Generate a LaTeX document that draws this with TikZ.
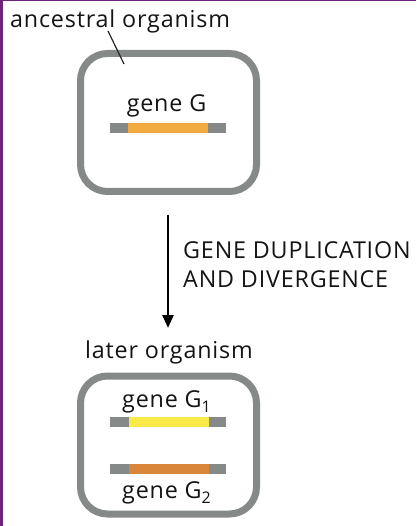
\documentclass[tikz,border=0pt]{standalone}
\usepackage{fontspec}
\setmainfont[LetterSpace=3.5]{Open Sans}
\usetikzlibrary{arrows.meta}
\definecolor{cellgray}{HTML}{858A88}
\definecolor{geneorange}{HTML}{F0AA40}
\definecolor{geneyellow}{HTML}{F9EA4A}
\definecolor{genedark}{HTML}{D9853A}
\definecolor{framepurple}{HTML}{6B2478}
\newcommand{\gsub}[1]{\raisebox{-5pt}{\fontsize{16}{17}\selectfont #1}}
\tikzset{
  cell/.style={draw=cellgray, line width=7pt, rounded corners=27pt, minimum width=176pt, minimum height=138pt, inner sep=0pt},
  flank/.style={fill=cellgray, minimum width=116pt, minimum height=10pt, inner sep=0pt},
  coding/.style={minimum width=80pt, minimum height=10pt, inner sep=0pt},
  lbl/.style={font=\fontsize{23.3}{27}\selectfont, inner sep=0pt, text=black!92},
  arrowline/.style={line width=2.5pt, -{Triangle[width=11pt,length=13pt]}},
}
\begin{document}
\begin{tikzpicture}[x=1pt,y=-1pt]
\useasboundingbox (0,0) rectangle (416,526);
\fill[white] (0,0) rectangle (416,526);
\fill[framepurple] (0,0) rectangle (3,526);
\fill[framepurple] (0,0) rectangle (416,1.5);
% ancestral organism
\node[cell] (cell1) at (168.5,122.5) {};
\node[lbl, anchor=base west] (anc) at (10,28) {ancestral organism};
\coordinate (ancA) at (108,31);
\coordinate (ancB) at (124,64);
\draw[line width=1.2pt, black!85] (ancA) -- (ancB);
\node[lbl, anchor=base] (geneG) at (166.5,112) {gene G};
\node[flank] (barG) at (167.5,128) {};
\node[coding, fill=geneorange] (codG) at (168,128) {};
% arrow
\coordinate (arrS) at (168,215);
\coordinate (arrE) at (168,328);
\draw[arrowline] (arrS) -- (arrE);
\node[lbl, anchor=base west] (dup1) at (183,258) {GENE DUPLICATION};
\node[lbl, anchor=base west] (dup2) at (183,287) {AND DIVERGENCE};
% later organism
\node[lbl, anchor=base west] (later) at (85,358) {later organism};
\node[cell] (cell2) at (168.5,445) {};
\node[lbl, anchor=base west] (geneG1) at (122,407) {gene G\gsub{1}};
\node[flank] (barG1) at (167.5,422) {};
\node[coding, fill=geneyellow] (codG1) at (168.5,422) {};
\node[flank] (barG2) at (167.5,469) {};
\node[coding, fill=genedark] (codG2) at (168.5,469) {};
\node[lbl, anchor=base west] (geneG2) at (122,498) {gene G\gsub{2}};
\end{tikzpicture}
\end{document}
